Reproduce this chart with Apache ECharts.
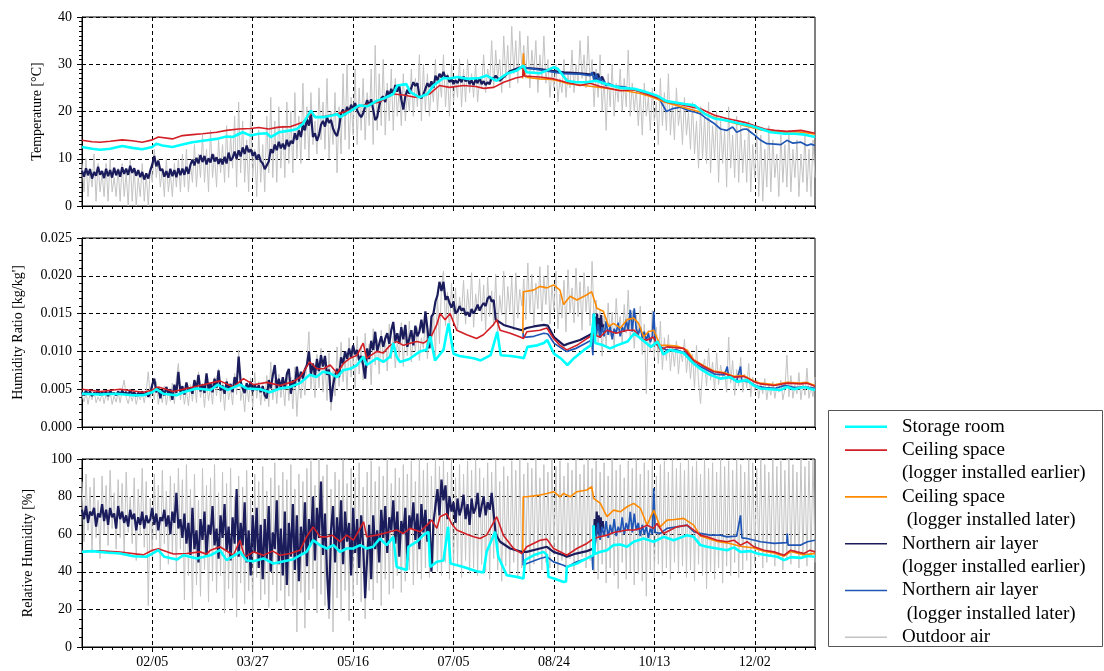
<!DOCTYPE html>
<html>
<head>
<meta charset="utf-8">
<title>Temperature, humidity ratio and relative humidity</title>
<script src="https://cdn.jsdelivr.net/npm/echarts@6.0.0/dist/echarts.min.js"></script>
<style>
  html, body { margin: 0; padding: 0; background: #fff; }
  #chart { width: 1104px; height: 671px; }
</style>
</head>
<body>
<div id="chart"></div>
<script>
// x positions are days counted from 1 January (0) to 1 January of the next year (365)
const tickDays = [35, 85, 135, 185, 235, 285, 335];
const tickLabels = ['02/05', '03/27', '05/16', '07/05', '08/24', '10/13', '12/02'];

// ---------- Temperature [°C] ----------
// outdoor air, one reading per day from day 0
const outdoorT = [
  9,3,10,2,8,4,11,1,9,3, 7,2,9,1,10,3,6,2,8,1, 9,2,7,0,10,1,8,0,6,2, 9,1,7,0,8,5,12,6,10,4,
  8,2,10,3,7,2,9,4,10,3, 11,4,12,3,9,5,13,4,11,6, 15,5,12,3,16,6,11,4,14,7, 13,5,17,6,15,8,19,4,22,7,
  18,5,14,3,20,6,12,2,16,5, 13,3,19,7,23,6,18,5,21,8, 17,6,22,9,20,7,24,10,19,9, 26,12,21,10,24,13,18,11,25,14,
  22,12,27,10,20,13,24,7,21,11, 28,14,30,12,23,15,29,13,25,16, 27,14,24,17,29,13,34,16,28,17, 31,15,26,18,29,16,27,19,25,17,
  28,18,24,20,29,19,27,21,32,18, 30,20,28,19,26,22,31,20,27,23, 32,21,28,19,30,22,27,23,31,21, 29,22,31,24,28,23,30,22,27,25,
  32,24,29,26,35,25,33,27,31,24, 36,27,34,25,38,28,35,26,37,29, 34,27,36,25,33,28,35,24,32,27, 36,26,31,23,29,25,30,22,27,24,
  31,23,28,25,33,24,30,26,35,27, 32,25,36,26,31,21,29,23,32,20, 27,16,28,21,30,19,26,22,29,20, 27,21,33,19,26,20,25,17,24,15,
  26,19,23,16,25,18,22,13,27,17, 24,16,28,15,22,14,25,17,21,13, 23,15,20,12,22,11,18,8,21,10, 19,9,22,7,17,10,20,5,18,9,
  16,4,21,8,15,6,19,5,17,7, 14,5,18,3,13,6,16,2,15,1, 12,4,17,3,14,6,11,2,15,5, 13,4,16,3,12,6,14,2,11,5,
  15,3,12,2,14,6
];
// northern air layer, earlier logger: daily readings from day 0 to day 206, then sparse points
const northEarlyT = [
  7.5,6.2,8.0,6.5,7.8,5.8,7.2,6.4,8.3,6.6, 7.4,5.9,7.9,6.3,7.6,6.0,8.1,6.5,7.7,6.2,
  8.2,6.8,7.9,6.6,8.5,7.0,8.0,6.4,7.6,6.1, 7.2,5.6,6.9,5.8,7.5,8.8,10.6,8.4,9.6,7.5,
  7.8,6.2,7.4,6.0,7.9,6.3,7.6,6.1,8.0,6.5, 7.9,6.6,8.3,6.8,8.7,9.8,8.6,10.2,9.0,10.8,
  9.3,10.6,8.8,10.1,9.2,11.0,9.4,10.3,8.9,10.0, 8.8,10.4,9.0,11.3,9.6,10.2,11.5,10.0,11.8,10.5,
  12.4,11.0,12.8,11.4,12.0,10.6,11.4,9.8,10.9,9.5, 9.0,7.8,8.6,9.4,12.0,11.2,13.0,11.8,13.6,12.2,
  13.2,12.0,14.0,12.6,13.8,13.2,15.4,14.0,16.0,14.6, 17.2,16.0,18.4,17.0,19.6,14.6,15.4,13.8,15.0,17.2,
  18.0,16.8,18.8,17.6,18.2,16.4,15.4,14.8,16.6,19.6, 20.4,19.2,21.0,19.8,21.4,20.6,21.8,20.2,19.4,18.8,
  19.6,21.0,22.4,21.2,22.6,20.4,18.2,18.8,21.2,22.8, 23.2,22.0,24.4,23.4,24.8,23.6,25.6,24.2,25.4,22.6,
  20.4,23.2,24.6,23.8,25.0,26.2,25.4,26.0,23.4,22.8, 23.6,24.8,26.0,25.2,26.4,25.0,27.6,26.6,28.0,27.2,
  28.4,27.0,27.6,26.2,26.8,25.8,26.6,26.0,27.0,26.2, 27.4,26.4,27.0,25.8,26.6,25.6,26.8,26.0,27.2,25.8,
  26.4,25.6,26.2,25.8,27.2,26.8,27.6
];
const northEarlyTTail = [
  [208,26.5],[213,28.5],[218,29.3],[222,29.2],[228,29.0],[234,28.6],[240,28.3],[248,28.1],[254,27.8],
  [255,28.3],[256,26.8],[257,28.0],[258,26.5],[259,27.4],[260,26.2]
];
const northLateT = [
  [219.6,29.4],[222,29.2],[228,28.8],[234,28.4],[240,28.0],[248,27.9],[253,27.6],[254,28.3],[255,26.6],
  [256,28.0],[257,26.4],[258,27.2],[259,25.8],[260,26.6],[261,25.4],[262,26.0],[265,25.4],[270,25.2],
  [275,24.6],[280,24.0],[284,23.4],[288,22.3],[291,20.0],[294,20.6],[298,20.9],[302,20.2],[305,19.9],
  [308,19.5],[311,18.5],[315,17.4],[318,16.3],[321,16.0],[324,16.7],[326,15.6],[329,16.2],[331,16.3],
  [334,15.3],[338,13.9],[341,13.2],[345,13.1],[348,13.0],[351,13.9],[354,13.3],[358,13.5],[361,12.8],
  [363,13.1],[365,12.8]
];
const ceilingLateT = [
  [219.4,27.0],[219.8,32.3],[220.5,27.6],[222,27.2],[228,26.9],[234,26.8],[238,26.4],[242,25.9],[248,25.6],
  [254,25.3],[260,25.0],[266,24.6],[272,24.3],[278,23.8],[284,23.0],[290,22.0],[296,21.3],[302,20.6],
  [308,19.9],[314,18.9],[320,18.1],[326,17.4],[332,16.8],[338,16.1],[344,15.8],[350,15.6],[356,15.7],
  [362,15.4],[365,15.2]
];
const ceilingEarlyT = [
  [0,13.9],[5,13.6],[9,13.5],[14,13.7],[20,14.0],[25,13.8],[30,13.5],[35,14.0],[38,14.6],[45,14.2],
  [50,14.9],[55,15.1],[60,15.3],[67,15.6],[72,16.0],[78,16.3],[84,16.4],[88,16.6],[93,16.3],[98,16.7],
  [104,16.8],[110,17.7],[114,19.5],[117,18.8],[121,19.0],[127,19.5],[133,20.2],[140,21.3],[148,22.0],
  [155,23.7],[160,23.5],[166,23.0],[173,23.7],[178,25.5],[183,25.1],[190,25.5],[196,25.3],[200,24.9],
  [205,25.1],[210,26.2],[216,27.1],[219.5,27.4],[219.8,29.7],[220.3,27.5],[228,27.3],[235,26.9],
  [241,26.2],[248,25.5],[253,26.0],[258,25.3],[268,24.4],[275,24.6],[281,23.7],[288,22.7],[291,22.0],
  [297,21.6],[304,20.9],[308,20.6],[315,19.2],[321,18.5],[330,17.7],[335,17.0],[340,16.3],[345,16.0],
  [351,15.8],[358,16.0],[365,15.4]
];
const storageT = [
  [0,12.5],[5,12.1],[9,11.9],[14,12.1],[20,12.7],[25,12.3],[30,12.0],[35,12.5],[37,13.2],[40,12.8],
  [45,12.5],[50,13.0],[55,13.5],[62,13.9],[67,14.2],[72,14.7],[75,14.6],[80,15.6],[84,14.9],[88,15.3],
  [92,15.4],[94,14.6],[98,15.6],[104,16.0],[107,16.3],[110,17.4],[114,20.2],[116,18.8],[120,18.8],
  [125,19.2],[127,19.5],[128.5,18.8],[133,19.9],[138,21.3],[142,21.1],[147,22.3],[150,22.7],[155,23.7],
  [157,25.5],[161.5,25.8],[163.5,24.1],[168,23.0],[172,23.7],[175,25.5],[180,27.1],[183,27.0],[187,27.3],
  [192,26.9],[198,27.1],[201.5,27.6],[206.5,26.5],[211.5,28.0],[216.5,28.7],[219.8,29.7],[221.5,28.3],
  [228,28.1],[231.5,28.7],[235,29.4],[237,29.0],[241.5,26.5],[246,26.2],[251,26.2],[256,26.5],[261,25.8],
  [268,25.0],[275,24.8],[281,24.1],[286,23.4],[291,22.2],[300,21.6],[305,21.3],[310,19.5],[315,18.5],
  [321,18.1],[328,17.4],[333,17.0],[338,16.3],[343,15.6],[350,15.3],[355,15.3],[360,15.1],[365,14.6]
];

// ---------- Humidity ratio, stored in g/kg ----------
const outdoorHR = [
  4.2,3.3,4.6,3.0,4.4,3.6,4.9,3.2,4.0,3.4, 4.5,3.1,4.3,3.5,4.8,3.0,4.1,3.3,4.6,3.2,
  5.0,6.2,3.9,3.1,4.4,3.4,4.7,3.0,4.2,3.6, 4.5,3.2,4.8,7.3,3.8,5.2,3.6,6.0,3.0,4.6,
  3.2,5.4,2.9,4.8,3.4,5.8,3.1,6.4,8.4,3.6, 5.2,3.0,4.9,2.8,5.6,3.4,6.3,3.2,7.3,3.9,
  5.8,2.6,6.0,3.5,5.4,3.0,6.6,4.1,7.7,3.3, 5.9,2.2,6.4,3.6,5.2,2.9,7.1,4.3,10.2,3.5,
  5.0,2.0,5.8,3.3,6.5,2.6,7.2,3.8,6.0,2.9, 5.6,3.4,6.8,2.7,8.6,3.6,6.2,3.1,7.0,3.9,
  5.8,2.8,7.4,3.5,6.6,2.4,7.9,1.4,6.3,3.8, 7.0,4.2,8.8,12.6,5.0,8.2,3.9,9.6,5.2,10.4,
  4.6,8.8,3.5,9.8,2.2,7.4,4.1,10.6,5.4,11.2, 6.0,9.4,4.8,11.8,6.6,10.2,5.2,12.0,7.0,10.8,
  6.2,12.4,7.8,11.0,5.6,13.0,8.2,11.6,7.0,12.8, 8.6,12.2,7.4,13.6,9.0,12.0,7.8,11.4,9.2,13.8,
  8.0,12.6,9.4,14.0,8.6,12.4,10.0,13.2,8.8,11.8, 10.4,14.2,9.0,13.0,10.6,15.6,9.4,17.2,11.0,18.6,
  20.6,13.4,17.8,12.6,19.0,14.2,18.4,12.8,17.2,15.0, 19.4,13.6,18.2,14.8,20.4,13.2,17.6,15.4,19.6,14.0,
  18.8,12.8,19.8,14.6,18.0,13.4,20.2,12.6,17.4,14.8, 20.6,13.2,18.6,15.2,19.8,12.8,20.4,14.4,18.2,16.0,
  19.6,14.2,21.7,15.0,20.2,13.4,19.0,15.6,21.2,14.0, 20.0,16.2,21.4,13.6,18.8,15.4,20.6,13.0,17.6,14.4,
  19.4,12.6,20.8,15.0,18.4,13.8,21.0,14.6,19.2,12.8, 20.4,15.2,18.6,13.4,21.9,14.0,16.8,11.2,15.6,9.4,
  14.8,10.6,16.4,12.0,15.2,10.2,17.0,12.8,14.6,11.0, 16.2,12.4,18.1,11.6,15.4,10.4,14.8,12.2,16.0,9.6,
  13.6,4.4,12.8,10.0,15.4,9.2,13.2,8.4,14.0,7.6, 11.8,8.8,12.2,7.4,10.6,8.0,11.4,7.0,10.2,8.6,
  11.6,7.2,10.0,6.4,9.6,5.2,10.8,6.0,3.1,7.6, 9.0,5.4,10.4,6.2,8.6,4.8,9.8,5.6,8.2,6.6,
  7.4,4.6,11.9,5.8,8.8,4.2,7.6,5.4,9.2,4.6, 7.0,5.2,8.4,4.0,6.6,4.8,6.2,3.8,5.8,4.4,
  6.4,3.6,5.6,4.2,6.0,3.8,5.4,4.6,6.2,3.6, 5.0,9.5,4.0,6.8,3.8,5.6,4.4,7.2,3.6,6.0,
  4.2,7.8,3.8,5.4,4.0,6.6
];
const northEarlyHR = [
  4.6,4.2,4.8,4.3,4.7,4.1,4.5,4.4,4.9,4.2, 4.6,4.3,4.7,4.1,4.8,4.4,4.5,4.2,4.7,4.3,
  4.8,4.4,4.6,4.2,4.9,4.3,4.6,4.1,4.5,4.3, 4.7,4.2,4.6,4.0,4.5,5.6,6.4,4.6,5.2,3.8,
  4.9,4.2,5.3,4.4,5.0,3.6,5.6,4.5,7.3,4.6, 5.4,4.3,5.9,4.8,5.2,4.4,6.2,5.0,6.9,4.7,
  5.6,4.5,7.1,5.0,5.8,4.6,6.4,5.2,7.5,4.8, 5.5,4.4,6.0,5.1,5.7,4.6,6.6,5.4,9.3,6.0,
  5.1,4.5,5.8,5.0,6.0,4.7,5.6,4.9,5.5,4.6, 5.4,4.2,3.8,6.2,5.1,6.8,8.2,5.0,6.4,5.2,
  6.6,5.0,7.0,7.7,4.4,6.2,5.3,8.0,6.0,7.3, 6.4,7.6,8.2,10.0,7.0,8.4,6.8,9.0,7.4,9.5,
  8.0,9.4,6.9,7.6,3.3,5.5,6.8,7.7,6.6,9.2, 8.4,10.0,9.0,10.4,9.2,10.8,9.6,10.2,8.8,9.4,
  8.2,6.4,10.4,9.0,11.4,10.2,12.6,10.0,11.0,12.0, 10.6,11.7,12.4,11.0,12.8,13.9,11.3,12.4,11.0,13.2,
  11.6,13.5,10.6,11.7,12.8,10.8,13.4,12.0,12.6,14.2, 12.4,15.3,13.0,10.4,14.6,15.0,16.6,17.4,19.2,18.0,
  19.2,16.8,17.3,16.4,15.8,16.6,15.0,15.3,16.0,15.4, 15.7,14.8,15.2,14.6,15.6,15.0,15.5,16.2,15.4,16.0,
  16.4,16.0,17.0,17.3,16.6,16.8,14.2
];
const northEarlyHRTail = [
  [210,13.5],[215,13.1],[219,12.8],[221.5,13.1],[225,13.3],[230,13.5],[232,13.4],[235,11.9],[240,10.8],
  [243,11.1],[248,11.5],[253,12.2],[254.8,12.6],[255.5,14.6],[256,12.2],[256.5,15.0],[257,12.8],
  [257.5,14.4],[258,12.0],[258.5,14.8],[259,12.9],[259.6,13.6]
];
const northLateHR = [
  [219.6,13.1],[219.7,11.9],[221.5,11.9],[225,12.0],[230,12.4],[232,12.3],[235,11.1],[240,10.2],
  [241.5,10.0],[246,10.4],[251,11.1],[253.8,11.5],[254.4,9.5],[254.6,15.0],[255,11.5],[256,12.4],
  [257,13.6],[258,11.8],[259,13.2],[260,12.0],[261,14.0],[262,12.2],[263,13.4],[264,11.6],[265,13.0],
  [266,12.4],[267,13.8],[268,12.0],[269,13.2],[270,12.6],[271,14.2],[272,12.8],[273,15.5],[274,12.6],
  [275,15.7],[276,13.0],[277,12.2],[278,13.2],[279,11.8],[280,12.6],[281,11.4],[282,12.4],[283,11.2],
  [284,12.0],[284.7,15.3],[285.5,11.0],[288,10.6],[291,10.2],[296,10.2],[301,9.7],[305,8.4],[310,7.7],
  [315,7.0],[320,6.9],[321.3,8.0],[322,6.6],[326,6.1],[327.9,8.0],[328.5,6.1],[332,6.0],[336,5.4],
  [340,5.2],[345,5.1],[350,5.5],[355,5.2],[360,5.3],[365,5.1]
];
const ceilingLateHR = [
  [219.5,12.4],[219.8,17.9],[224.8,18.1],[228,18.6],[231.5,18.4],[234.8,18.8],[238,18.1],[239.8,16.2],
  [243.1,17.3],[246.4,16.8],[251.4,17.5],[253.8,17.9],[256.4,15.7],[259.6,15.3],[262.3,13.3],[264.7,13.7],
  [268.1,13.1],[271.4,14.2],[274.7,14.4],[277.2,13.7],[279.7,11.9],[282,12.6],[284.7,12.8],[287.9,10.8],
  [291.3,10.8],[296.2,10.7],[301.3,10.2],[304.6,8.9],[309.6,8.1],[314.6,7.4],[319.6,7.2],[324.6,6.7],
  [329.6,6.8],[334.6,6.1],[337.9,5.8],[344.6,5.6],[351.2,5.9],[357.9,5.8],[361,5.9],[365,5.5]
];
const ceilingEarlyHR = [
  [0,5.0],[9,4.7],[19,5.0],[30.6,4.6],[35,4.9],[38,5.3],[45.5,4.7],[52,5.1],[58.8,5.5],[68.7,6.1],
  [75.4,5.3],[80.4,6.4],[85.4,5.6],[92,5.9],[98.6,5.5],[105.3,6.0],[108.6,6.6],[113.4,8.6],[117,7.7],
  [120.3,7.7],[123.6,8.2],[127,7.1],[130.2,8.4],[133.5,9.1],[137,9.5],[140,11.1],[141.8,9.1],[146.8,10.0],
  [150,9.8],[153.4,10.8],[156.7,11.3],[160,10.8],[166.7,11.3],[170,11.1],[173.4,11.7],[176.6,13.5],
  [178.3,15.0],[180.8,14.2],[183.3,15.0],[186.6,12.8],[191.6,12.2],[196.5,11.7],[199.9,12.2],[204.8,13.5],
  [206.5,14.2],[208.2,12.8],[213.2,12.4],[218.2,11.9],[219.8,11.7],[221.5,12.6],[228,12.8],[231.5,13.1],
  [234.8,11.7],[238.1,10.8],[241.4,10.2],[246.4,10.8],[251.4,11.7],[254.8,12.2],[258,11.9],[261.4,12.8],
  [266,12.4],[271.4,12.8],[275,12.8],[278.1,11.7],[281.4,11.5],[284.5,11.9],[287.9,10.2],[291.3,10.6],
  [299.6,10.4],[304.6,8.8],[309.6,8.0],[314.6,7.3],[319.6,7.1],[324.6,6.6],[329.6,6.7],[334.6,6.0],
  [337.9,5.7],[344.6,5.5],[351.2,5.8],[357.9,5.7],[361,5.8],[365,5.4]
];
const storageHR = [
  [0,4.4],[9,4.3],[17,4.4],[25.6,4.2],[30.6,4.2],[35,4.6],[37,5.0],[40.5,4.4],[47,4.2],[50.5,4.6],
  [57,5.1],[64,4.9],[67.5,5.6],[72.5,4.9],[78.7,5.6],[82,5.1],[88.7,5.0],[93.6,4.6],[98.6,5.1],[103.6,5.3],
  [108.5,5.8],[113.4,6.9],[116.7,6.6],[120,7.3],[123.6,7.1],[127,6.6],[130,7.5],[133.5,7.7],[137,8.2],
  [140,9.3],[141.8,8.2],[146.8,9.1],[150,8.6],[153.4,9.3],[155,11.1],[156.7,9.3],[158.4,8.6],[163,9.0],
  [168.3,10.0],[171.5,10.2],[173.4,12.0],[175.8,8.8],[180,10.2],[182.5,13.7],[185,9.7],[188,9.4],[195,9.1],
  [198.5,8.8],[203.5,9.5],[206.8,12.6],[208.5,9.5],[213.5,9.4],[218.5,9.2],[220,9.1],[221.8,10.6],
  [226.7,10.8],[230,11.1],[231.7,11.5],[235,9.7],[238.3,9.1],[241.7,8.2],[245,9.1],[250,10.2],[253.3,10.8],
  [255,15.0],[255.6,11.1],[259.6,10.8],[263,10.4],[266.4,10.8],[271.6,11.3],[275,12.4],[280,11.3],
  [283.3,10.6],[286.6,11.3],[289.5,9.6],[292.8,10.2],[299.5,9.8],[304.5,8.4],[307.9,7.7],[312.8,6.9],
  [317.8,6.4],[322.8,6.6],[326.2,6.0],[331.2,6.2],[334.5,5.5],[337.9,5.1],[342.9,5.0],[347.8,4.9],
  [351.2,5.3],[354.5,5.0],[359.5,5.3],[365,4.9]
];

// ---------- Relative humidity [%] ----------
const outdoorRH = [
  88,56,92,62,85,50,90,58,78,47, 91,60,86,54,94,63,82,52,89,58, 87,49,93,61,80,55,90,46,84,59,
  95,53,88,22,79,48,92,57,86,41, 94,55,83,44,91,50,87,40,95,52, 89,25,97,38,84,20,92,33,78,27,
  95,41,86,24,90,35,97,29,82,38, 93,18,87,31,95,26,80,16,91,34, 85,23,94,30,79,19,92,37,88,25,
  96,28,83,21,90,33,98,24,86,30, 93,20,89,27,97,22,84,8,92,29, 88,10,95,25,99,31,86,18,100,28,
  91,22,97,15,84,8,93,26,89,19, 100,30,87,14,95,27,90,33,98,24, 85,15,93,30,99,25,88,34,96,22,
  91,36,100,28,87,31,95,38,90,29, 97,35,92,41,99,33,88,39,100,36, 94,42,98,37,91,44,100,40,96,38,
  99,45,93,36,100,41,90,43,97,37, 92,46,99,39,94,42,100,38,95,44, 90,40,98,36,93,47,100,41,88,35,
  96,43,91,38,99,45,94,37,100,42, 92,47,98,40,95,44,100,48,90,41, 97,45,93,42,100,49,96,40,99,46,
  91,43,98,47,94,41,100,45,92,48, 97,42,100,46,95,40,99,36,93,44, 98,34,91,42,100,38,94,31,97,45,
  90,36,99,40,95,33,100,39,92,35, 98,27,94,41,100,37,91,44,97,38, 99,42,93,36,100,45,95,39,98,43,
  94,37,100,41,96,35,99,44,92,38, 100,31,95,40,98,36,93,42,100,34, 96,43,99,38,94,45,100,37,97,41,
  93,46,100,40,98,44,95,48,100,42, 97,45,93,49,100,43,96,47,99,41, 94,46,100,44,97,50,93,42,100,47,
  96,43,99,48,100,45
];
const northEarlyRH = [
  73,68,75,66,72,70,74,64,71,69, 76,67,73,65,74,69,71,63,75,68, 72,66,70,64,73,68,71,62,69,65,
  72,63,70,66,68,74,65,71,62,69, 67,73,64,70,60,72,66,82,63,68, 58,71,55,66,49,74,52,62,45,68,
  57,72,48,65,60,75,54,63,47,70, 58,76,51,64,46,69,55,84,48,66, 54,77,45,62,38,70,50,74,42,65,
  36,68,47,75,40,61,52,78,44,63, 38,72,33,66,48,76,41,70,35,64, 50,77,43,68,55,80,46,74,58,88,
  49,71,40,20,62,75,45,69,52,78, 44,72,56,66,38,74,50,68,42,70, 54,26,48,65,36,70,52,62,45,73,
  58,75,50,69,62,78,55,72,48,67, 60,74,46,70,63,77,57,71,52,76, 61,73,56,68,40,66,75,84,70,89,
  78,86,68,80,72,77,66,79,70,74, 81,68,76,65,79,71,74,82,69,75, 80,70,77,73,82,71,60
];
const northEarlyRHTail = [
  [208.2,56],[213.2,52.4],[219,50.6],[221.5,50.6],[228,52.4],[231.5,53.3],[234.8,50.6],[239.8,48.8],
  [241.4,48.0],[246,49.7],[251.4,51.0],[254.8,52.4],[255.3,68],[255.8,59],[256.3,72],[256.8,60],
  [257.3,70],[257.8,58],[258.3,69],[258.8,61],[259.3,67],[259.6,63]
];
const northLateRH = [
  [219.6,50.5],[219.7,43.5],[221.5,44.4],[228.1,47.1],[231.5,48.0],[234.8,45.3],[239.8,43.5],[241.4,42.6],
  [246.4,45.3],[251.4,47.1],[254,48.5],[254.4,41],[254.6,64.8],[255,50],[256,58],[257,66],[258,57],
  [259,64],[260,59],[261,67],[262,58],[263,65],[264,60],[265,68],[266,59],[267,64],[268,61],[269,69],
  [270,60],[271,66],[272,62],[273,71.9],[274,61],[275,71],[276,62],[277,66],[278,59],[279,65],[280,60],
  [281,64],[282,58],[283,63],[284,60],[284.7,84.4],[285.4,61],[287.9,60.4],[291.3,63.1],[296.2,63.9],
  [301.3,64.8],[304.6,61.3],[307.9,60.4],[312.8,59.5],[317.8,59.5],[321.2,58.6],[326,59],[327.9,70],
  [328.6,58],[331.2,57.7],[337.9,56],[344.6,55.1],[351,55.5],[351.2,60.4],[351.6,54.2],[357.9,54.2],
  [361.2,56],[365,56.8]
];
const ceilingLateRH = [
  [219.5,50],[219.7,79.9],[221.5,79.9],[228.1,80.8],[231.5,81.7],[234.8,82.6],[238.1,79.9],[239.8,81.7],
  [243.1,79.9],[246.4,82.6],[251.4,83.5],[253.8,85.3],[254.8,79],[258.1,76.4],[261.4,69.3],[264.7,72.8],
  [268,71.9],[271.4,74.6],[274.7,76.4],[278.1,73.7],[281.4,64.8],[284.7,72.8],[287.9,63.9],[291.3,67.5],
  [295,67.8],[299.6,68.4],[304.6,64.8],[307.9,59],[311,58],[316.2,56.2],[321.2,55.4],[327.9,53.6],
  [334.6,52.7],[339.6,51],[344.6,50],[349.6,48.3],[352.9,50.8],[359.6,49],[365,49.8]
];
const ceilingEarlyRH = [
  [0,50.8],[9,51.2],[19,50.5],[30.6,49.0],[35,51.5],[38,52.2],[45.5,49.5],[52,49.7],[58.8,50.6],[62,49.4],
  [64,51.5],[68.7,53.3],[75.4,48.8],[78.7,56.8],[81,47.8],[85.4,50.6],[90.3,48.8],[95,51.0],[98.6,48.8],
  [103.6,49.7],[108.6,51.5],[111.8,58.6],[115.1,63.9],[118.5,58.6],[121.9,58.6],[124.6,59.5],[128.5,56],
  [131.8,59.5],[135.2,56.8],[140.2,66.6],[141.8,58.6],[146.8,59.5],[150,60.4],[153.4,61.3],[156.7,62.2],
  [160,60.4],[163.4,63.1],[168.4,61.3],[171.7,64.8],[174.2,67.5],[176.7,63.1],[178.3,69.3],[181.6,71.0],
  [184,65.7],[186.6,62.2],[191.6,60.0],[195,58.6],[198.2,57.7],[201.5,59.5],[206.5,69.3],[209.8,59.5],
  [214.9,52.4],[219,49.7],[219.8,48.8],[221.5,53.3],[228.1,56.8],[231.5,57.4],[234.8,52.4],[239.8,49.7],
  [241.4,48.8],[246.4,52.4],[251.4,55.1],[254.8,57.7],[258,58.6],[261.4,59.5],[264.7,60.9],[271.4,62.2],
  [275,62.2],[278.1,63.1],[281.4,64.8],[284.7,63.1],[286.3,65.7],[289.6,60.4],[293,62.2],[296.2,63.9],
  [301.3,64.8],[304.6,62.2],[307.9,59.5],[311.2,58.6],[316.2,56.8],[321.2,56],[324.6,56.8],[327.9,54.2],
  [331.2,56],[334.6,53.3],[339.6,51.5],[344.6,50.6],[349.6,48.8],[352.9,51.5],[356,50.6],[359.6,49.7],
  [362.5,51.5],[365,50.6]
];
const storageRH = [
  [0,50.6],[5,51.0],[12,50.3],[19,49.7],[25.6,48.3],[32,48.0],[35,49.7],[38,51.5],[41,48.0],[47.2,46.5],
  [50.5,48.8],[57.2,47.1],[64,48.8],[68.7,51.5],[72,46.2],[78.7,50.6],[82,46.0],[85.4,45.6],[90.3,47.1],
  [95.3,44.4],[100,45.5],[105.3,46.7],[108.6,48.8],[111.8,50.6],[115.1,56.8],[118.5,54.2],[121.9,52.4],
  [125.2,54.2],[128.5,50.6],[131.8,52.4],[135,52.4],[138.5,54.2],[141.8,52.4],[145,53.3],[148.3,57.7],
  [151.7,54.2],[155,58.6],[156.7,42.6],[161.7,40.9],[162.5,53.3],[166.7,56],[170,59.5],[172.5,61.3],
  [173.4,42.6],[176.7,45.3],[180,46.0],[182.3,63.9],[183.5,44.4],[190,42.6],[196.5,40.3],[199.9,39.6],
  [201.5,50.6],[205.7,61.3],[207.3,48],[211.5,38.2],[216.5,37.3],[219.8,36.4],[220.6,46.2],[224.8,48.8],
  [229.8,50.6],[231.5,49],[232.3,37.3],[235,36.4],[239.8,34.6],[241,34.8],[241.4,42.6],[246.4,44.4],
  [251.4,47.1],[254.5,48.8],[254.8,64.8],[255.3,49.5],[258,50.6],[261.4,51.5],[264.7,54.2],[268,54.5],
  [271.4,53.3],[274.7,56],[279.7,57.7],[284.7,56],[289.6,58.6],[294.6,56.8],[301.3,59.5],[304.6,58.6],
  [307.9,54.2],[311.2,53.3],[316.2,52.4],[321.2,51.5],[324.6,53],[327.9,50.6],[332.9,51],[336.2,49.7],
  [341.2,48.8],[346.2,48],[349.6,46.2],[352.9,47.8],[357.9,47.4],[361.2,48.4],[365,48]
];

// ---------- series names, legend text, colours ----------
const NAMES = {
  storage: 'Storage room',
  ceilEarly: 'Ceiling space (logger installed earlier)',
  ceilLate: 'Ceiling space (logger installed later)',
  northEarly: 'Northern air layer (logger installed earlier)',
  northLate: 'Northern air layer (logger installed later)',
  outdoor: 'Outdoor air'
};
// blank first/last lines keep each legend line beside the first text line
const LEGEND_TEXT = {
  storage: 'Storage room',
  ceilEarly: '\nCeiling space\n(logger installed earlier)',
  ceilLate: '\nCeiling space\n (logger installed later)',
  northEarly: '\nNorthern air layer\n(logger installed earlier)',
  northLate: '\nNorthern air layer\n (logger installed later)',
  outdoor: '\nOutdoor air\n'
};
const COLORS = {
  storage: '#00FFFF', ceilEarly: '#D21F26', ceilLate: '#FF8A00',
  northEarly: '#1B1C5C', northLate: '#1F56B5', outdoor: '#C3C3C3'
};
const WIDTHS = { storage: 2.6, ceilEarly: 1.6, ceilLate: 1.6, northEarly: 2.2, northLate: 1.7, outdoor: 1 };
const LEGEND_LINE = { storage: 2.6, ceilEarly: 1.6, ceilLate: 1.6, northEarly: 1.6, northLate: 1.6, outdoor: 1.6 };

const FONT = "'Liberation Serif', 'Times New Roman', serif";
const G_PER_KG = 1000;

const daily = (arr, start) => arr.map((v, i) => [start + i, v]);
const toKg = pts => pts.map(p => [p[0], p[1] / G_PER_KG]);

const panels = [
  {
    outdoor: daily(outdoorT, 0),
    northEarly: daily(northEarlyT, 0).concat(northEarlyTTail),
    northLate: northLateT,
    ceilLate: ceilingLateT,
    ceilEarly: ceilingEarlyT,
    storage: storageT
  },
  {
    outdoor: toKg(daily(outdoorHR, 0)),
    northEarly: toKg(daily(northEarlyHR, 0).concat(northEarlyHRTail)),
    northLate: toKg(northLateHR),
    ceilLate: toKg(ceilingLateHR),
    ceilEarly: toKg(ceilingEarlyHR),
    storage: toKg(storageHR)
  },
  {
    outdoor: daily(outdoorRH, 0),
    northEarly: daily(northEarlyRH, 0).concat(northEarlyRHTail),
    northLate: northLateRH,
    ceilLate: ceilingLateRH,
    ceilEarly: ceilingEarlyRH,
    storage: storageRH
  }
];

// drawing order: outdoor air at the back, storage room on top
const DRAW_ORDER = ['outdoor', 'northEarly', 'northLate', 'ceilLate', 'ceilEarly', 'storage'];
const LEGEND_ORDER = ['storage', 'ceilEarly', 'ceilLate', 'northEarly', 'northLate', 'outdoor'];

const grids = [
  { left: 82, top: 17, width: 733, height: 189 },
  { left: 82, top: 238, width: 733, height: 189 },
  { left: 82, top: 459, width: 733, height: 188 }
].map(g => Object.assign({ show: true, borderColor: '#000', borderWidth: 1, backgroundColor: 'transparent' }, g));

const yDefs = [
  { min: 0, max: 40, interval: 10, minor: 10, name: 'Temperature [°C]', gap: 38, fmt: v => String(v) },
  { min: 0, max: 0.025, interval: 0.005, minor: 5, name: "Humidity Ratio [kg/kg']", gap: 57, fmt: v => v.toFixed(3) },
  { min: 0, max: 100, interval: 20, minor: 4, name: 'Relative Humidity [%]', gap: 47, fmt: v => String(v) }
];

const dashed = { color: '#000', width: 1, type: [4, 3] };
const xAxes = [];
const yAxes = [];
grids.forEach((g, i) => {
  // axis carrying the data, with a small tick every 5 days
  xAxes.push({
    type: 'value', gridIndex: i, position: 'bottom', min: 0, max: 365, interval: 5,
    axisLine: { show: true, onZero: false, lineStyle: { color: '#000', width: 1 } },
    axisTick: { show: true, inside: false, length: 3, lineStyle: { color: '#000' } },
    axisLabel: { show: false },
    splitLine: { show: false }
  });
  // dated ticks, labels and dashed grid lines
  xAxes.push({
    type: 'value', gridIndex: i, position: 'bottom', min: 0, max: 365,
    axisLine: { show: false, onZero: false },
    axisTick: { show: true, inside: false, length: 5, customValues: tickDays, lineStyle: { color: '#000' } },
    axisLabel: {
      show: i === 2, customValues: tickDays, margin: 8,
      fontFamily: FONT, fontSize: 14, color: '#000',
      formatter: v => tickLabels[tickDays.indexOf(v)] || ''
    },
    splitLine: { show: true, customValues: tickDays, lineStyle: dashed }
  });
  const d = yDefs[i];
  yAxes.push({
    type: 'value', gridIndex: i, min: d.min, max: d.max, interval: d.interval,
    name: d.name, nameLocation: 'middle', nameGap: d.gap, nameRotate: 90,
    nameTextStyle: { fontFamily: FONT, fontSize: 14, color: '#000' },
    axisLine: { show: true, lineStyle: { color: '#000', width: 1 } },
    axisTick: { show: true, inside: false, length: 5, lineStyle: { color: '#000' } },
    minorTick: { show: true, splitNumber: d.minor, length: 3, lineStyle: { color: '#000' } },
    axisLabel: { fontFamily: FONT, fontSize: 14, color: '#000', margin: 10, formatter: d.fmt },
    splitLine: { show: true, lineStyle: dashed }
  });
});

const series = [];
panels.forEach((p, i) => {
  DRAW_ORDER.forEach((key, k) => {
    series.push({
      name: NAMES[key], type: 'line', xAxisIndex: i * 2, yAxisIndex: i,
      data: p[key], symbol: 'none', showSymbol: false, z: 2 + k,
      lineStyle: { color: COLORS[key], width: WIDTHS[key] },
      itemStyle: { color: COLORS[key] },
      emphasis: { disabled: true }, silent: true
    });
  });
});

const LH = 23.4;
const legendNameToKey = {};
Object.keys(NAMES).forEach(k => { legendNameToKey[NAMES[k]] = k; });

const chart = echarts.init(document.getElementById('chart'), null, { renderer: 'canvas' });
chart.setOption({
  animation: false,
  backgroundColor: '#fff',
  grid: grids,
  xAxis: xAxes,
  yAxis: yAxes,
  series: series,
  legend: {
    orient: 'vertical', left: 845, top: 415, height: 400, padding: 0,
    itemGap: -LH, itemWidth: 42, itemHeight: 14, selectedMode: false, symbolKeepAspect: true,
    // each entry is drawn as a plain horizontal stroke in the series colour
    data: LEGEND_ORDER.map(k => ({
      name: NAMES[k],
      icon: 'path://M0,0H42V' + LEGEND_LINE[k] + 'H0Z',
      itemStyle: { color: COLORS[k], borderWidth: 0 }
    })),
    formatter: name => LEGEND_TEXT[legendNameToKey[name]],
    textStyle: { fontFamily: FONT, fontSize: 19, color: '#000', lineHeight: LH, padding: [0, 0, 0, 10] }
  },
  graphic: [{
    type: 'rect', silent: true,
    shape: { x: 828.5, y: 410.5, width: 274, height: 236 },
    style: { fill: 'none', stroke: '#555', lineWidth: 1 }
  }]
});
</script>
</body>
</html>
